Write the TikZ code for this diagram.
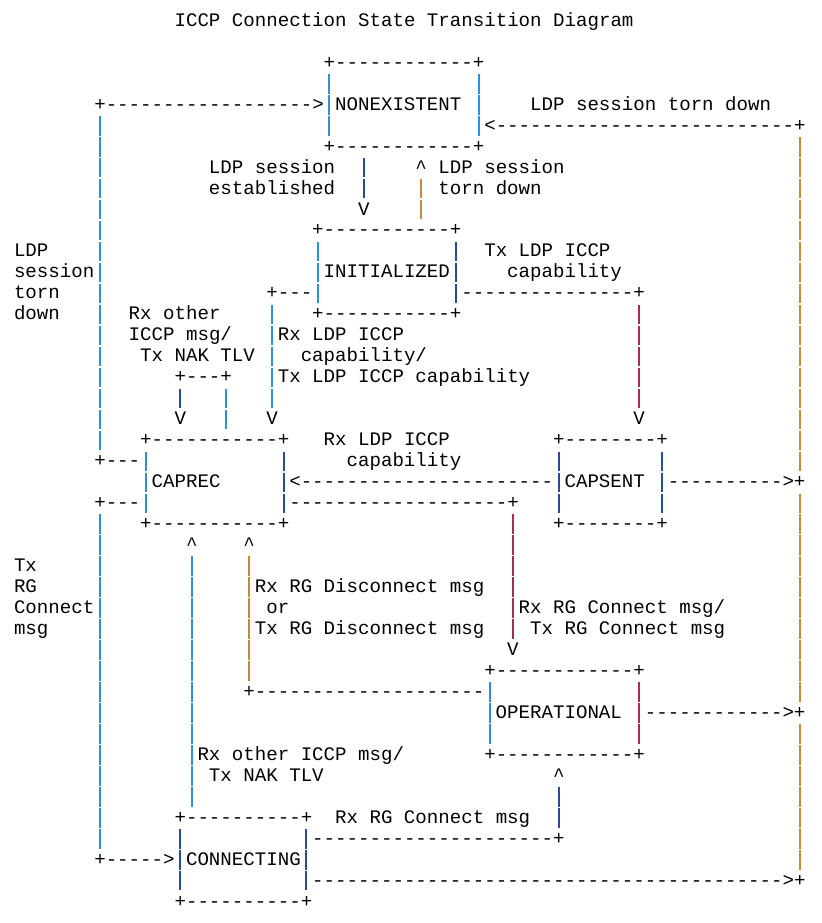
\documentclass[tikz,border=0pt]{standalone}
\usepackage{fontspec}
\setmonofont{Liberation Mono}
\definecolor{cB}{HTML}{3090E0}
\definecolor{cN}{HTML}{2A4C98}
\definecolor{cO}{HTML}{C88A34}
\definecolor{cR}{HTML}{A82C54}
\tikzset{
  txt/.style={anchor=base west,inner sep=0pt,outer sep=0pt,text=black,
    font=\fontsize{14.34}{17}\selectfont\ttfamily},
  barB/.style={draw=cB,line width=1.5pt},
  barN/.style={draw=cN,line width=1.5pt},
  barO/.style={draw=cO,line width=1.5pt},
  barR/.style={draw=cR,line width=1.5pt},
}
% text piece at row #1, column #2
\newcommand\R[3]{\node[txt] (t-#1-#2) at ({14.0+#2*11.47},{26.3+#1*20.97}) {#3};}
% run of #1 dashes
\newcommand\D[1]{\foreach\k in {1,...,#1}{-}}
\newcommand\U{\textasciicircum}
% vertical bar glyphs: rows #1 (list), column #2, tone #3
\newcommand\Bar[3]{\foreach \r in {#1}{%
  \coordinate (b-\r-#2) at ({19.735+#2*11.47},{21+\r*20.97-9.8});
  \draw[bar#3] (b-\r-#2) -- ++(0,19.5);}}
\begin{document}
\begin{tikzpicture}[x=0.75pt,y=-0.75pt]
\useasboundingbox (0,0) rectangle (821,923);
\fill[white] (0,0) rectangle (821,923);
% title
\R{0}{14}{ICCP Connection State Transition Diagram}
% NONEXISTENT
\R{2}{27}{+\D{12}+}
\R{4}{7}{+\D{18}>}
\R{4}{28}{NONEXISTENT}
\R{4}{45}{LDP session torn down}
\R{5}{41}{<\D{26}+}
\R{6}{27}{+\D{12}+}
\Bar{3,4,5}{27}{B}
\Bar{3,4,5}{40}{B}
% NONEXISTENT <-> INITIALIZED
\R{7}{17}{LDP session}
\R{7}{35}{\U{} LDP session}
\R{8}{17}{established}
\R{8}{37}{torn down}
\R{9}{30}{V}
\Bar{7,8}{30}{N}
\Bar{8,9}{35}{O}
% INITIALIZED
\R{10}{26}{+\D{11}+}
\R{11}{0}{LDP}
\R{11}{41}{Tx LDP ICCP}
\R{12}{0}{session}
\R{12}{27}{INITIALIZED}
\R{12}{43}{capability}
\R{13}{0}{torn}
\R{13}{22}{+\D{3}}
\R{13}{39}{\D{15}+}
\R{14}{0}{down}
\R{14}{26}{+\D{11}+}
\Bar{11,12,13}{26}{B}
\Bar{11,12,13}{38}{N}
% INITIALIZED -> CAPREC / CAPSENT
\R{14}{10}{Rx other}
\R{15}{10}{ICCP msg/}
\R{16}{11}{Tx NAK TLV}
\R{15}{23}{Rx LDP ICCP}
\R{16}{25}{capability/}
\R{17}{14}{+\D{3}+}
\R{17}{23}{Tx LDP ICCP capability}
\R{19}{14}{V}
\R{19}{22}{V}
\R{19}{54}{V}
\Bar{14,...,18}{22}{B}
\Bar{14,...,18}{54}{R}
\Bar{18}{14}{N}
\Bar{18,19}{18}{B}
% CAPREC and CAPSENT
\R{20}{11}{+\D{11}+}
\R{20}{27}{Rx LDP ICCP}
\R{20}{47}{+\D{8}+}
\R{21}{7}{+\D{3}}
\R{21}{29}{capability}
\R{22}{12}{CAPREC}
\R{22}{24}{<\D{22}}
\R{22}{48}{CAPSENT}
\R{22}{57}{\D{10}>+}
\R{23}{7}{+\D{3}}
\R{23}{24}{\D{19}+}
\R{24}{11}{+\D{11}+}
\R{24}{47}{+\D{8}+}
\Bar{21,22,23}{11}{B}
\Bar{21,22,23}{23}{N}
\Bar{21,22,23}{47}{N}
\Bar{21,22,23}{56}{N}
% CAPREC <-> OPERATIONAL / CONNECTING
\R{25}{15}{\U}
\R{25}{20}{\U}
\R{26}{0}{Tx}
\R{27}{0}{RG}
\R{28}{0}{Connect}
\R{29}{0}{msg}
\R{27}{21}{Rx RG Disconnect msg}
\R{28}{22}{or}
\R{29}{21}{Tx RG Disconnect msg}
\R{28}{44}{Rx RG Connect msg/}
\R{29}{45}{Tx RG Connect msg}
\R{30}{43}{V}
\Bar{24,...,29}{43}{R}
\Bar{26,...,37}{15}{B}
\Bar{26,...,31}{20}{O}
% OPERATIONAL
\R{31}{41}{+\D{12}+}
\R{32}{20}{+\D{20}}
\R{33}{42}{OPERATIONAL}
\R{33}{55}{\D{12}>+}
\R{35}{41}{+\D{12}+}
\Bar{32,33,34}{41}{B}
\Bar{32,33,34}{54}{R}
\R{35}{16}{Rx other ICCP msg/}
\R{36}{17}{Tx NAK TLV}
\R{36}{47}{\U}
\Bar{37,38}{47}{N}
% CONNECTING
\R{38}{14}{+\D{10}+}
\R{38}{28}{Rx RG Connect msg}
\R{39}{26}{\D{21}+}
\R{40}{7}{+\D{5}>}
\R{40}{15}{CONNECTING}
\R{41}{26}{\D{41}>+}
\R{42}{14}{+\D{10}+}
\Bar{39,40,41}{14}{N}
\Bar{39,40,41}{25}{N}
% long side lines
\Bar{5,...,20}{7}{B}
\Bar{24,...,39}{7}{B}
\Bar{6,...,21}{68}{O}
\Bar{23,...,32}{68}{O}
\Bar{34,...,40}{68}{O}
\end{tikzpicture}
\end{document}
